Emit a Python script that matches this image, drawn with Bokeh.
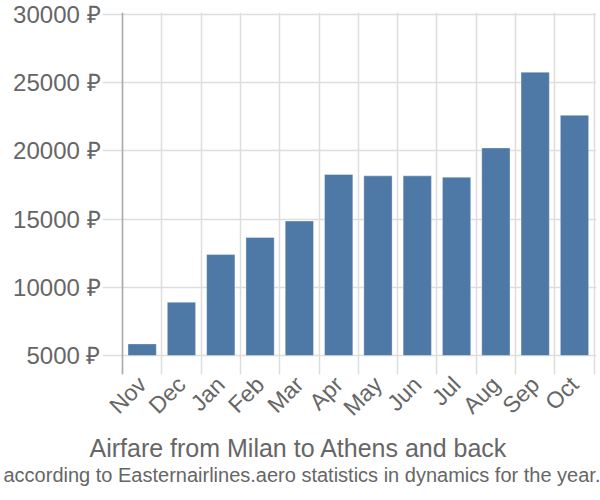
from bokeh.plotting import figure
from bokeh.models import FixedTicker, Range1d, Title, Span, ColumnDataSource
from bokeh.embed import file_html
from bokeh.resources import INLINE

months = ["Nov", "Dec", "Jan", "Feb", "Mar", "Apr", "May", "Jun", "Jul", "Aug", "Sep", "Oct"]
prices = [5850, 8900, 12400, 13650, 14860, 18270, 18170, 18170, 18070, 20220, 25770, 22610]
y_ticks = [5000, 10000, 15000, 20000, 25000, 30000]
y_tick_labels = ["5000 ₽", "10000 ₽", "15000 ₽", "20000 ₽", "25000 ₽", "30000 ₽"]
title_text = "Airfare from Milan to Athens and back"
subtitle_text = "according to Easternairlines.aero statistics in dynamics for the year."

FONT = "Liberation Sans"
GRAY = "#666666"

p = figure(frame_width=494, frame_height=362, output_backend="svg", toolbar_location=None,
           x_range=Range1d(-0.509, 12.06), y_range=Range1d(3607, 30147),
           min_border_left=102, min_border_right=4, min_border_top=12, min_border_bottom=126)
p.outline_line_color = None

xs = [i + 0.5 for i in range(len(months))]
src = ColumnDataSource(dict(x=xs, top=prices))
p.vbar(x="x", top="top", bottom=y_ticks[0], width=0.72, source=src,
       fill_color="#4e79a7", line_color="#ffffff", line_alpha=0.35, line_width=1)

# axes
p.xaxis.ticker = FixedTicker(ticks=xs)
p.xaxis.major_label_overrides = {x: m for x, m in zip(xs, months)}
p.xaxis.major_label_orientation = 0.785398
p.xaxis.axis_line_color = None
p.xaxis.major_tick_line_color = None
p.xaxis.minor_tick_line_color = None
p.xaxis.major_label_text_font = FONT
p.xaxis.major_label_text_font_size = "23px"
p.xaxis.major_label_text_color = GRAY
p.xaxis.major_label_standoff = 0

p.yaxis.ticker = FixedTicker(ticks=y_ticks)
p.yaxis.major_label_overrides = {t: l for t, l in zip(y_ticks, y_tick_labels)}
p.yaxis.axis_line_color = None
p.yaxis.major_tick_line_color = None
p.yaxis.minor_tick_line_color = None
p.yaxis.major_label_text_font = FONT
p.yaxis.major_label_text_font_size = "24px"
p.yaxis.major_label_text_color = GRAY
p.yaxis.major_label_standoff = -4

# grids
p.xgrid.ticker = FixedTicker(ticks=list(range(len(months) + 1)))
p.ygrid.ticker = FixedTicker(ticks=y_ticks)
for g in (p.xgrid, p.ygrid):
    g.grid_line_color = "#dddddd"
    g.grid_line_width = 1.5

p.add_layout(Span(location=0, dimension="height", line_color="#aaaaaa", line_width=1.5))

ttl = Title(text=title_text, text_font=FONT, text_font_size="25px", text_color=GRAY,
            text_font_style="normal", align="left", standoff=-2, offset=-13)
sub = Title(text=subtitle_text, text_font=FONT, text_font_size="20px", text_color=GRAY,
            text_font_style="normal", align="left", standoff=2, offset=-99)
p.add_layout(ttl, "below")
p.add_layout(sub, "below")

open("out.html", "w").write(file_html(p, INLINE))
